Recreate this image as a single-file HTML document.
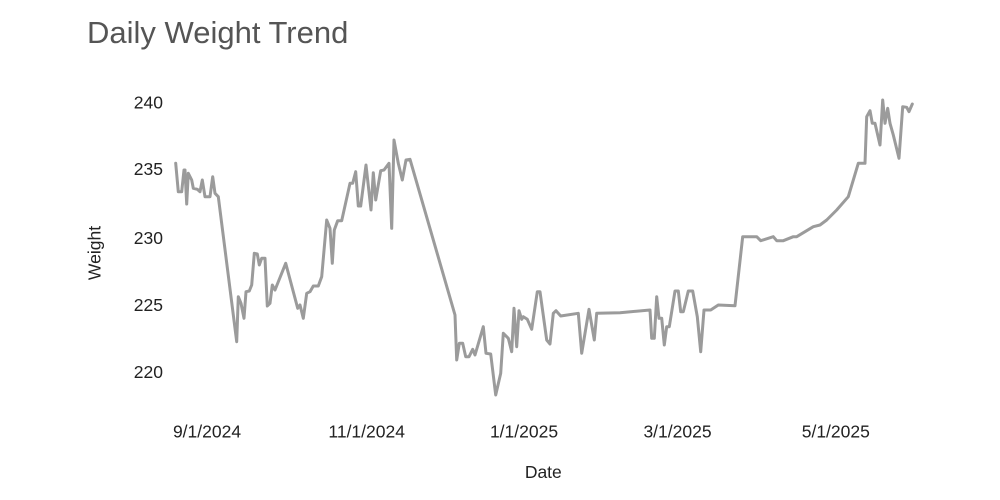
<!DOCTYPE html>
<html>
<head>
<meta charset="utf-8">
<style>
  html, body { margin:0; padding:0; background:#fff; }
  svg { display:block; }
  text { font-family: "Liberation Sans", Arial, sans-serif; }
</style>
</head>
<body>
<svg width="1000" height="500" viewBox="0 0 1000 500" xmlns="http://www.w3.org/2000/svg">
  <rect width="1000" height="500" fill="#fff"/>
  <text x="87" y="43" font-size="31" fill="#555">Daily Weight Trend</text>

  <g font-size="17.5" fill="#222" text-anchor="end">
    <text x="163" y="108.5">240</text>
    <text x="163" y="175.2">235</text>
    <text x="163" y="243.8">230</text>
    <text x="163" y="311">225</text>
    <text x="163" y="378.2">220</text>
  </g>

  <g font-size="17.5" fill="#222" text-anchor="middle">
    <text x="207" y="437.7">9/1/2024</text>
    <text x="366.7" y="437.7">11/1/2024</text>
    <text x="524" y="437.7">1/1/2025</text>
    <text x="677.5" y="437.7">3/1/2025</text>
    <text x="835.8" y="437.7">5/1/2025</text>
  </g>

  <text x="543.3" y="478" font-size="17.5" fill="#222" text-anchor="middle">Date</text>
  <text transform="translate(100.5,253) rotate(-90)" font-size="17.5" fill="#222" text-anchor="middle">Weight</text>

  <polyline fill="none" stroke="#9b9b9b" stroke-width="3" stroke-linejoin="round" stroke-linecap="round" points="
175.7,163.3 178.3,191.7 181.7,191.7 184,170 185,170 186.7,204 188.3,173.3 191.7,180 193.3,188.3 197.3,189.3 200,191.7 202.3,180 205,196.7 210,196.7 212.7,176.7 215,193.3 218.3,196.7
236.7,341.7 238.3,296.7 241,303.3 244,318.3 246,291.7 249.3,291 251.7,285 254.3,253.3 257.3,254 259.3,265 261.7,258.3 265,258.3 267.3,306 270,303.3 272.3,285 275,290 285.7,263.3 297.7,308.3 300,305 303.3,318.3 306.7,293.3 310,291.7 313.3,286 318.3,286 321.7,276.7 326.7,220 330,228.3 332.3,263.3 334.3,230 337.7,220.7 341.7,220.7 350,183.3 352.7,183.3 355.7,171.7 358.3,206 360.7,206 366,165 371,210 373.3,172.7 375.7,200 380.7,170.7 384,170 389,163.3 391.7,228.3 394,140 398.3,163.3 402.3,180 406,160 410,159.3
455,315 456.7,360 459.3,343.3 462.7,343.3 465.7,356.7 469,356.7 472.7,349.3 475,355 483.3,326.7 486,353.3 490.7,354 495.7,395 500.7,373.3 503.3,333.3 508.3,338.3 511.7,351.7 514,308.3 516.7,346.7 519,310.7 521.7,319.3 523.3,316.7 527.3,319.3 531.7,329.3 537.3,291.7 540,291.7 546.7,340 550,344 553.3,313.3 556,310.7 560.7,316 578.3,313.3 581.7,353.3 589,309.3 594.3,340 596.7,313.3 620,312.7 650,310
651.7,338.3 654.3,338.3 656.7,296.7 659,318.3 661.7,318.3 664.3,345 666.7,326.7 669.3,326.7 675,291 678.3,291 680.7,311.7 683.3,311.7 688.3,291 692.7,291 697.3,316.7 700.7,351.7 704,310 710.7,310 718.3,305 735,305.7
742.7,236.7 756.7,236.7 760.7,240.7 773.3,236.7 776.7,240.7 783.3,240.7 793.3,236.7 796.7,236.7 813.3,226.7 820,225 826.7,220 836.7,210 848.3,196.7 858.3,163.3 865,163.3 866.7,116.7 870,110.7 872.3,123.3 875,123.3 880,145 882.7,100 885,123.3 887.7,108.3 890,123.3 893.3,135 899,158.3 902.7,106.7 906.7,107.3 909,111.7 912.3,104"/>
</svg>
</body>
</html>
